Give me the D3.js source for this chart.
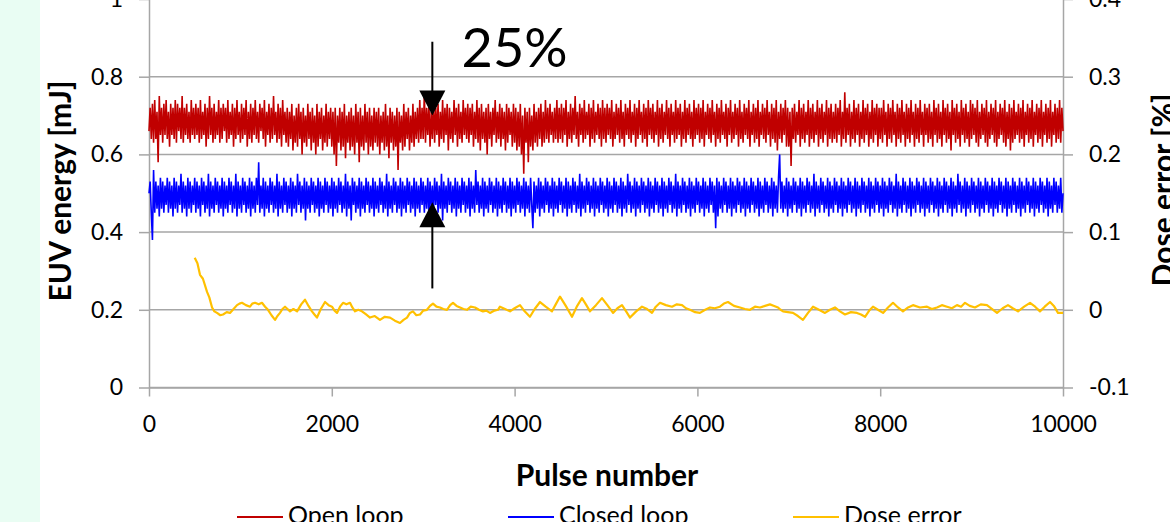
<!DOCTYPE html>
<meta charset="utf-8">
<script src="https://d3js.org/d3.v7.min.js"></script>
<style>
  body { margin: 0; background: #fff; overflow: hidden; }
  svg text { font-family: Lato, "Open Sans", sans-serif; fill: #000; }
</style>
<div id="chart"></div>
<script>

// ---- data ----
var pulseStep = 12.5;   // open/closed loop sampled every 12.5 pulses, 0..10000

var openLoop = [
  0.66,0.72,0.64,0.73,0.63,0.74,0.64,0.71,0.58,0.75,0.65,0.72,0.63,0.73,0.65,0.74,0.64,0.71,0.62,0.73,0.65,0.72,0.64,0.74,0.63,0.73,0.66,0.72,0.64,0.75,0.63,0.72,0.65,0.73,0.64,0.71,0.63,0.74,0.65,0.72,
  0.64,0.73,0.65,0.72,0.63,0.74,0.64,0.71,0.65,0.73,0.62,0.72,0.64,0.75,0.65,0.72,0.63,0.73,0.64,0.71,0.65,0.74,0.63,0.72,0.64,0.73,0.66,0.72,0.63,0.74,0.64,0.71,0.65,0.73,0.62,0.72,0.64,0.74,0.65,0.71,
  0.63,0.73,0.64,0.72,0.65,0.74,0.62,0.71,0.64,0.73,0.63,0.72,0.65,0.74,0.64,0.71,0.63,0.73,0.66,0.72,0.64,0.74,0.62,0.71,0.65,0.73,0.63,0.72,0.64,0.75,0.65,0.71,0.63,0.73,0.64,0.72,0.62,0.74,0.65,0.71,
  0.63,0.72,0.62,0.71,0.64,0.73,0.61,0.70,0.63,0.72,0.62,0.73,0.64,0.71,0.60,0.72,0.63,0.70,0.62,0.73,0.64,0.71,0.61,0.72,0.63,0.70,0.60,0.73,0.62,0.71,0.64,0.72,0.61,0.70,0.63,0.73,0.62,0.71,0.64,0.72,
  0.62,0.71,0.60,0.72,0.57,0.70,0.63,0.72,0.61,0.71,0.62,0.73,0.59,0.70,0.63,0.71,0.61,0.72,0.62,0.70,0.60,0.73,0.63,0.71,0.58,0.72,0.62,0.70,0.61,0.73,0.63,0.71,0.60,0.72,0.62,0.70,0.61,0.72,0.63,0.71,
  0.62,0.72,0.60,0.70,0.63,0.71,0.61,0.73,0.62,0.70,0.59,0.72,0.63,0.71,0.61,0.70,0.62,0.72,0.56,0.71,0.63,0.70,0.61,0.73,0.62,0.71,0.64,0.72,0.61,0.70,0.63,0.73,0.62,0.71,0.64,0.72,0.63,0.74,0.64,0.72,
  0.64,0.76,0.63,0.72,0.65,0.73,0.62,0.71,0.64,0.74,0.63,0.72,0.65,0.73,0.62,0.71,0.64,0.74,0.63,0.72,0.65,0.73,0.61,0.72,0.64,0.71,0.63,0.74,0.65,0.72,0.62,0.73,0.64,0.71,0.63,0.74,0.65,0.72,0.64,0.73,
  0.63,0.72,0.65,0.73,0.62,0.71,0.64,0.74,0.63,0.72,0.61,0.73,0.64,0.71,0.63,0.72,0.60,0.73,0.64,0.71,0.62,0.72,0.65,0.74,0.63,0.71,0.64,0.73,0.62,0.72,0.64,0.71,0.61,0.73,0.63,0.72,0.65,0.71,0.62,0.73,
  0.63,0.72,0.61,0.71,0.62,0.73,0.60,0.70,0.55,0.72,0.63,0.71,0.58,0.72,0.62,0.70,0.61,0.73,0.63,0.71,0.62,0.72,0.64,0.73,0.62,0.71,0.63,0.74,0.64,0.72,0.63,0.73,0.65,0.71,0.63,0.72,0.64,0.74,0.63,0.72,
  0.64,0.73,0.63,0.72,0.65,0.74,0.62,0.71,0.64,0.73,0.63,0.72,0.65,0.75,0.64,0.71,0.62,0.73,0.65,0.72,0.63,0.74,0.64,0.71,0.65,0.73,0.62,0.72,0.64,0.74,0.63,0.71,0.65,0.73,0.64,0.72,0.62,0.74,0.64,0.72,
  0.63,0.73,0.65,0.72,0.64,0.74,0.62,0.71,0.64,0.73,0.65,0.72,0.63,0.74,0.64,0.71,0.62,0.73,0.65,0.72,0.64,0.74,0.63,0.71,0.65,0.73,0.62,0.72,0.64,0.74,0.65,0.71,0.63,0.73,0.64,0.72,0.62,0.74,0.65,0.72,
  0.64,0.73,0.63,0.71,0.65,0.74,0.62,0.72,0.64,0.73,0.63,0.71,0.65,0.74,0.64,0.72,0.62,0.73,0.65,0.71,0.63,0.74,0.64,0.72,0.65,0.73,0.62,0.71,0.64,0.74,0.63,0.72,0.65,0.73,0.64,0.71,0.62,0.74,0.64,0.72,
  0.65,0.73,0.63,0.72,0.64,0.74,0.62,0.71,0.65,0.73,0.64,0.72,0.63,0.74,0.65,0.71,0.62,0.73,0.64,0.72,0.63,0.74,0.65,0.71,0.64,0.73,0.62,0.72,0.65,0.74,0.63,0.71,0.64,0.73,0.65,0.72,0.62,0.74,0.64,0.71,
  0.63,0.73,0.65,0.72,0.64,0.74,0.62,0.71,0.65,0.73,0.63,0.72,0.64,0.74,0.62,0.71,0.65,0.73,0.64,0.72,0.63,0.74,0.65,0.71,0.62,0.73,0.64,0.72,0.63,0.74,0.61,0.71,0.64,0.73,0.63,0.72,0.65,0.74,0.62,0.72,
  0.62,0.71,0.57,0.72,0.64,0.73,0.63,0.71,0.65,0.74,0.62,0.72,0.64,0.73,0.63,0.71,0.65,0.74,0.62,0.72,0.64,0.73,0.63,0.71,0.65,0.74,0.62,0.72,0.64,0.73,0.63,0.71,0.65,0.74,0.62,0.72,0.64,0.73,0.63,0.71,
  0.64,0.73,0.63,0.72,0.65,0.74,0.62,0.71,0.64,0.76,0.63,0.72,0.65,0.73,0.62,0.71,0.64,0.74,0.63,0.72,0.65,0.73,0.62,0.71,0.64,0.74,0.63,0.72,0.65,0.73,0.62,0.71,0.64,0.74,0.63,0.72,0.65,0.73,0.62,0.72,
  0.64,0.72,0.63,0.74,0.65,0.71,0.62,0.73,0.64,0.72,0.63,0.74,0.65,0.71,0.62,0.73,0.64,0.72,0.63,0.74,0.65,0.71,0.62,0.73,0.64,0.72,0.63,0.74,0.65,0.71,0.62,0.73,0.64,0.72,0.63,0.74,0.65,0.71,0.62,0.73,
  0.65,0.72,0.63,0.73,0.64,0.71,0.62,0.74,0.65,0.72,0.63,0.73,0.64,0.71,0.62,0.74,0.65,0.72,0.63,0.73,0.64,0.71,0.61,0.74,0.65,0.72,0.63,0.73,0.64,0.71,0.62,0.74,0.65,0.72,0.63,0.73,0.64,0.71,0.62,0.74,
  0.64,0.73,0.65,0.72,0.63,0.74,0.62,0.71,0.64,0.73,0.65,0.72,0.63,0.74,0.62,0.71,0.64,0.73,0.65,0.72,0.63,0.74,0.62,0.71,0.64,0.73,0.65,0.72,0.63,0.74,0.62,0.71,0.64,0.73,0.61,0.72,0.63,0.74,0.64,0.71,
  0.65,0.73,0.63,0.72,0.64,0.74,0.62,0.71,0.65,0.73,0.63,0.72,0.64,0.74,0.62,0.71,0.65,0.73,0.63,0.72,0.64,0.74,0.62,0.71,0.65,0.73,0.63,0.72,0.64,0.74,0.62,0.71,0.65,0.73,0.63,0.72,0.64,0.74,0.63,0.72,
  0.66
];

var closedLoop = [
  0.50,0.53,0.45,0.38,0.56,0.45,0.53,0.46,0.52,0.44,0.54,0.46,0.53,0.45,0.52,0.47,0.54,0.45,0.53,0.46,0.52,0.44,0.54,0.46,0.53,0.45,0.52,0.47,0.55,0.45,0.53,0.46,0.52,0.44,0.54,0.46,0.53,0.45,0.52,0.47,
  0.54,0.45,0.53,0.46,0.52,0.44,0.54,0.47,0.53,0.45,0.52,0.46,0.55,0.44,0.53,0.46,0.52,0.45,0.54,0.47,0.53,0.45,0.52,0.46,0.54,0.44,0.53,0.46,0.52,0.45,0.54,0.47,0.53,0.45,0.52,0.46,0.55,0.44,0.53,0.46,
  0.52,0.45,0.54,0.47,0.53,0.45,0.52,0.46,0.54,0.44,0.53,0.46,0.52,0.45,0.54,0.47,0.58,0.45,0.52,0.46,0.54,0.44,0.53,0.46,0.52,0.45,0.54,0.47,0.53,0.45,0.52,0.46,0.55,0.44,0.53,0.46,0.52,0.45,0.54,0.47,
  0.53,0.45,0.52,0.46,0.54,0.44,0.53,0.46,0.52,0.45,0.55,0.47,0.53,0.45,0.52,0.46,0.54,0.43,0.53,0.46,0.52,0.45,0.54,0.47,0.53,0.45,0.52,0.46,0.54,0.44,0.53,0.46,0.52,0.45,0.54,0.47,0.53,0.45,0.52,0.46,
  0.54,0.44,0.53,0.46,0.52,0.45,0.54,0.47,0.53,0.45,0.52,0.46,0.55,0.44,0.53,0.46,0.52,0.43,0.54,0.47,0.53,0.45,0.52,0.46,0.54,0.44,0.53,0.46,0.52,0.45,0.54,0.47,0.53,0.45,0.52,0.46,0.54,0.44,0.53,0.46,
  0.52,0.45,0.54,0.47,0.53,0.45,0.52,0.46,0.55,0.44,0.53,0.46,0.52,0.45,0.54,0.47,0.53,0.45,0.52,0.46,0.54,0.44,0.53,0.46,0.52,0.45,0.54,0.47,0.53,0.45,0.52,0.46,0.54,0.44,0.53,0.46,0.52,0.45,0.54,0.47,
  0.53,0.45,0.52,0.46,0.54,0.44,0.53,0.46,0.52,0.45,0.54,0.47,0.53,0.45,0.52,0.46,0.55,0.43,0.53,0.46,0.52,0.45,0.54,0.47,0.53,0.45,0.52,0.46,0.54,0.44,0.53,0.46,0.52,0.45,0.54,0.47,0.53,0.45,0.52,0.46,
  0.54,0.44,0.53,0.46,0.52,0.45,0.56,0.47,0.53,0.45,0.52,0.46,0.54,0.44,0.53,0.46,0.52,0.45,0.54,0.47,0.53,0.45,0.52,0.46,0.54,0.44,0.53,0.46,0.52,0.45,0.54,0.47,0.53,0.45,0.52,0.46,0.54,0.44,0.53,0.46,
  0.52,0.45,0.54,0.47,0.53,0.45,0.52,0.46,0.54,0.44,0.53,0.46,0.52,0.45,0.54,0.47,0.41,0.53,0.45,0.52,0.46,0.54,0.44,0.53,0.46,0.52,0.45,0.54,0.47,0.53,0.45,0.52,0.46,0.54,0.44,0.53,0.46,0.52,0.45,0.54,
  0.47,0.53,0.45,0.52,0.46,0.54,0.44,0.53,0.46,0.52,0.45,0.54,0.47,0.53,0.45,0.52,0.46,0.55,0.44,0.53,0.46,0.52,0.45,0.54,0.47,0.53,0.45,0.52,0.46,0.54,0.44,0.53,0.46,0.52,0.45,0.54,0.47,0.53,0.45,0.52,
  0.46,0.54,0.44,0.53,0.46,0.52,0.45,0.54,0.47,0.53,0.45,0.52,0.46,0.54,0.44,0.53,0.46,0.52,0.45,0.55,0.47,0.53,0.45,0.52,0.46,0.54,0.44,0.53,0.46,0.52,0.45,0.54,0.47,0.53,0.45,0.52,0.46,0.54,0.44,0.53,
  0.46,0.52,0.45,0.54,0.47,0.53,0.45,0.52,0.46,0.54,0.44,0.53,0.46,0.52,0.45,0.54,0.47,0.53,0.45,0.52,0.46,0.55,0.44,0.53,0.46,0.52,0.45,0.54,0.47,0.53,0.45,0.52,0.46,0.54,0.44,0.53,0.46,0.52,0.45,0.54,
  0.47,0.53,0.45,0.52,0.46,0.54,0.44,0.53,0.46,0.52,0.45,0.54,0.47,0.53,0.45,0.52,0.41,0.54,0.44,0.53,0.46,0.52,0.45,0.54,0.47,0.53,0.45,0.52,0.46,0.54,0.44,0.53,0.46,0.52,0.45,0.54,0.47,0.53,0.45,0.52,
  0.46,0.54,0.44,0.53,0.46,0.52,0.45,0.54,0.47,0.53,0.45,0.52,0.46,0.54,0.44,0.53,0.46,0.52,0.45,0.54,0.47,0.53,0.45,0.52,0.46,0.54,0.44,0.53,0.46,0.52,0.45,0.54,0.60,0.46,0.53,0.45,0.52,0.46,0.54,0.44,
  0.53,0.46,0.52,0.45,0.54,0.47,0.53,0.45,0.52,0.46,0.54,0.44,0.53,0.46,0.52,0.45,0.54,0.47,0.53,0.45,0.52,0.46,0.55,0.44,0.53,0.46,0.52,0.45,0.54,0.47,0.53,0.45,0.52,0.46,0.54,0.44,0.53,0.46,0.52,0.45,
  0.54,0.47,0.53,0.45,0.52,0.46,0.54,0.44,0.53,0.46,0.52,0.45,0.54,0.47,0.53,0.45,0.52,0.46,0.54,0.44,0.53,0.46,0.52,0.45,0.54,0.47,0.53,0.45,0.52,0.46,0.54,0.44,0.53,0.46,0.52,0.45,0.54,0.47,0.53,0.45,
  0.52,0.46,0.54,0.44,0.53,0.46,0.52,0.45,0.54,0.47,0.53,0.45,0.52,0.46,0.55,0.44,0.53,0.46,0.52,0.45,0.54,0.47,0.53,0.45,0.52,0.46,0.54,0.44,0.53,0.46,0.52,0.45,0.54,0.47,0.53,0.45,0.52,0.46,0.54,0.44,
  0.53,0.46,0.52,0.45,0.54,0.47,0.53,0.45,0.52,0.46,0.54,0.44,0.53,0.46,0.52,0.45,0.54,0.47,0.53,0.45,0.52,0.46,0.54,0.44,0.53,0.46,0.52,0.45,0.55,0.47,0.53,0.45,0.52,0.46,0.54,0.44,0.53,0.46,0.52,0.45,
  0.54,0.47,0.53,0.45,0.52,0.46,0.54,0.44,0.53,0.46,0.52,0.45,0.54,0.47,0.53,0.45,0.52,0.46,0.54,0.44,0.53,0.46,0.52,0.45,0.54,0.47,0.53,0.45,0.52,0.46,0.54,0.44,0.53,0.46,0.52,0.45,0.54,0.47,0.53,0.45,
  0.52,0.46,0.54,0.44,0.53,0.46,0.52,0.45,0.54,0.47,0.53,0.45,0.52,0.46,0.54,0.44,0.53,0.46,0.52,0.45,0.54,0.47,0.53,0.45,0.52,0.46,0.54,0.44,0.53,0.46,0.52,0.45,0.54,0.47,0.53,0.45,0.52,0.46,0.54,0.45,
  0.50
];

// dose error (right axis, %), starts at pulse 500
var dosePulse = [
  500,530,558,590,635,660,690,715,744,780,810,850,886,925,963,990,1017,1060,1105,1130,
  1160,1200,1236,1270,1302,1340,1379,1405,1433,1460,1488,1515,1543,1580,1620,1665,1707,1745,1783,1810,
  1838,1880,1926,1965,2002,2030,2057,2090,2123,2160,2199,2225,2254,2290,2330,2375,2418,2470,2527,2580,
  2637,2690,2746,2785,2823,2855,2888,2925,2965,3000,3041,3075,3107,3145,3184,3220,3260,3295,3326,3365,
  3403,3440,3479,3520,3567,3610,3654,3690,3731,3780,3818,3840,3895,3950,4000,4059,4110,4168,4220,4278,
  4340,4409,4450,4497,4560,4628,4680,4737,4780,4825,4890,4956,5015,5077,5125,5175,5220,5263,5330,5394,
  5450,5503,5545,5591,5655,5722,5775,5832,5875,5919,5975,6028,6085,6138,6190,6247,6290,6335,6400,6466,
  6520,6575,6630,6685,6740,6794,6840,6882,6910,6937,6990,7046,7100,7155,7210,7265,7330,7396,7450,7505,
  7560,7615,7680,7746,7790,7834,7880,7921,7975,8031,8085,8140,8195,8249,8305,8359,8435,8512,8565,8621,
  8675,8731,8785,8840,8885,8928,8980,9037,9100,9168,9225,9278,9340,9398,9450,9508,9575,9639,9695,9748,
  9800,9858,9900,9945,10000
];
var doseError = [
  0.067,0.060,0.045,0.040,0.023,0.016,0.003,-0.002,-0.004,-0.007,-0.006,-0.003,-0.004,0.001,0.006,0.008,0.009,0.006,0.004,0.008,
  0.009,0.007,0.009,0.004,0.000,-0.007,-0.013,-0.008,-0.004,0.001,0.004,0.001,-0.002,0.001,-0.002,0.007,0.013,0.005,-0.002,-0.006,
  -0.010,0.001,0.010,0.006,0.004,-0.001,-0.004,0.004,0.009,0.007,0.009,0.003,-0.002,0.000,-0.002,-0.006,-0.010,-0.008,-0.013,-0.009,
  -0.010,-0.014,-0.017,-0.013,-0.010,-0.004,-0.002,-0.007,-0.006,-0.001,0.000,0.005,0.008,0.004,0.003,0.001,0.000,0.006,0.009,0.005,
  0.003,0.001,0.000,0.004,0.003,0.000,-0.002,-0.001,-0.004,-0.001,0.000,0.004,0.001,-0.002,0.002,0.006,-0.002,-0.009,0.001,0.010,
  0.004,-0.002,0.007,0.017,0.005,-0.009,0.004,0.015,0.007,-0.002,0.006,0.015,0.006,-0.004,0.002,0.006,-0.002,-0.010,-0.002,0.004,
  0.001,-0.004,0.004,0.009,0.006,0.004,0.007,0.006,0.002,0.000,-0.003,-0.004,0.000,0.003,0.002,0.004,0.008,0.010,0.005,0.003,
  0.001,0.000,0.004,0.003,0.005,0.007,0.005,0.003,0.000,-0.002,-0.003,-0.004,-0.008,-0.013,-0.004,0.004,0.000,-0.004,0.000,0.003,
  -0.002,-0.006,-0.003,-0.004,-0.006,-0.009,-0.001,0.004,0.000,-0.004,0.003,0.009,0.003,-0.002,0.003,0.006,0.003,0.004,0.001,0.003,
  0.006,0.004,0.002,0.006,0.004,0.009,0.005,0.003,0.007,0.006,0.001,-0.004,0.002,0.006,0.002,-0.002,0.004,0.009,0.004,-0.002,
  0.004,0.010,0.005,-0.004,-0.004
];

var xTicks = [0, 2000, 4000, 6000, 8000, 10000];
var leftTicks = [0, 0.2, 0.4, 0.6, 0.8, 1];
var rightTicks = [-0.1, 0, 0.1, 0.2, 0.3, 0.4];

// annotation: arrows at pulse 3100 (left-axis units)
var arrowPulse = 3100;
var arrowDown = [0.89, 0.70];   // tail, tip
var arrowUp = [0.255, 0.477];   // tail, tip
var annotText = "25%";

var series = [
  { name: "Open loop",   color: "#c00000" },
  { name: "Closed loop", color: "#0000ff" },
  { name: "Dose error",  color: "#ffc000" }
];

// ---- layout ----
var W = 1170, H = 522;
var svg = d3.select("#chart").append("svg")
  .attr("width", W).attr("height", H);

// pale strip on the left edge
svg.append("rect")
  .attr("x", 0).attr("y", 0).attr("width", 40).attr("height", H)
  .attr("fill", "#e9fdf3");

var x = d3.scaleLinear().domain([0, 10000]).range([149, 1063]);
var y = d3.scaleLinear().domain([0, 1]).range([387.5, -1]);
var y2 = d3.scaleLinear().domain([-0.1, 0.4]).range([387.5, -1]);

var gridColor = "#a6a6a6";
var fmt = function(d){ return String(+d.toFixed(1)) };

// gridlines
svg.append("g")
  .selectAll("line")
  .data(leftTicks)
  .enter().append("line")
    .attr("x1", x(0)).attr("x2", x(10000))
    .attr("y1", function(d){ return y(d) }).attr("y2", function(d){ return y(d) })
    .attr("stroke", gridColor).attr("stroke-width", 1.5);

// axes
var axisL = svg.append("g")
  .attr("transform", "translate(" + x(0) + ",0)")
  .call(d3.axisLeft(y).tickValues(leftTicks).tickSize(10).tickSizeOuter(0).tickPadding(16).tickFormat(fmt));

var axisR = svg.append("g")
  .attr("transform", "translate(" + x(10000) + ",0)")
  .call(d3.axisRight(y2).tickValues(rightTicks).tickSize(10).tickSizeOuter(0).tickPadding(16).tickFormat(fmt));

var axisB = svg.append("g")
  .attr("transform", "translate(0," + y(0) + ")")
  .call(d3.axisBottom(x).tickValues(xTicks).tickSize(9).tickSizeOuter(0).tickPadding(19)
    .tickFormat(d3.format("d")));

[axisL, axisR, axisB].forEach(function(g){
  g.select(".domain").attr("stroke", gridColor).attr("stroke-width", 1.5);
  g.selectAll(".tick line").attr("stroke", gridColor).attr("stroke-width", 1.5);
  g.selectAll(".tick text")
    .style("font-family", "Lato, sans-serif")
    .style("font-size", "23px")
    .attr("fill", "#1a1a1a");
});

// ---- series ----
var line = d3.line()
  .x(function(d){ return x(d[0]) })
  .y(function(d){ return d[1] });

var openPts = openLoop.map(function(v, i){ return [i * pulseStep, y(v)] });
var closedPts = closedLoop.map(function(v, i){ return [i * pulseStep, y(v)] });
var dosePts = dosePulse.map(function(p, i){ return [p, y2(doseError[i])] });

svg.append("path").datum(openPts)
  .attr("d", line).attr("fill", "none")
  .attr("stroke", series[0].color).attr("stroke-width", 1.6);

svg.append("path").datum(closedPts)
  .attr("d", line).attr("fill", "none")
  .attr("stroke", series[1].color).attr("stroke-width", 1.6);

svg.append("path").datum(dosePts)
  .attr("d", line).attr("fill", "none")
  .attr("stroke", series[2].color).attr("stroke-width", 2.2)
  .attr("stroke-linejoin", "round");

// ---- annotation ----
var ax = x(arrowPulse);
function arrow(tail, tip) {
  var yt = y(tip), yl = y(tail), dir = yl < yt ? 1 : -1;
  svg.append("line")
    .attr("x1", ax).attr("x2", ax)
    .attr("y1", yl).attr("y2", yt - dir * 20)
    .attr("stroke", "#000").attr("stroke-width", 2);
  svg.append("path")
    .attr("d", "M" + (ax - 13) + "," + (yt - dir * 25) + "L" + (ax + 13) + "," + (yt - dir * 25) + "L" + ax + "," + yt + "Z")
    .attr("fill", "#000");
}
arrow(arrowDown[0], arrowDown[1]);
arrow(arrowUp[0], arrowUp[1]);

svg.append("text")
  .attr("x", x(3420)).attr("y", y(0.825))
  .style("font-size", "54px")
  .text(annotText);

// ---- axis titles ----
svg.append("text")
  .attr("transform", "translate(71,191) rotate(-90)")
  .style("text-anchor", "middle")
  .style("font-size", "30px").style("font-weight", "bold")
  .text("EUV energy [mJ]");

svg.append("text")
  .attr("transform", "translate(1174,190) rotate(-90)")
  .style("text-anchor", "middle")
  .style("font-size", "30px").style("font-weight", "bold")
  .text("Dose error [%]");

svg.append("text")
  .attr("x", 607).attr("y", 486)
  .style("text-anchor", "middle")
  .style("font-size", "30px").style("font-weight", "bold")
  .text("Pulse number");

// ---- legend ----
var legendX = [237, 508, 793];
var lg = svg.append("g").selectAll("g")
  .data(series)
  .enter().append("g")
    .attr("transform", function(d, i){ return "translate(" + legendX[i] + ",0)" });
lg.append("line")
  .attr("x1", 0).attr("x2", 46).attr("y1", 517).attr("y2", 517)
  .attr("stroke", function(d){ return d.color }).attr("stroke-width", 2);
lg.append("text")
  .attr("x", 51).attr("y", 524)
  .style("font-size", "25px")
  .text(function(d){ return d.name });

</script>
